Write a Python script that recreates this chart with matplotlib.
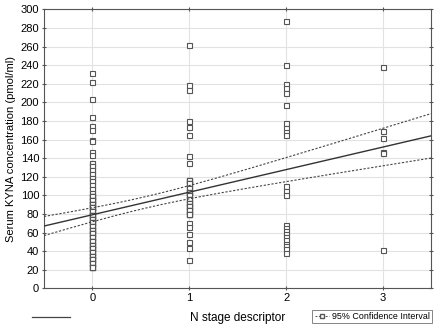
import numpy as np
import matplotlib
matplotlib.use("Agg")
import matplotlib.pyplot as plt
from matplotlib.lines import Line2D

plt.rcParams['font.family'] = ['Liberation Sans', 'DejaVu Sans']

# KYNA values (pmol/ml) per N stage.
# The stacks at N0 and N1 overlap heavily, so each value carries a count.
n0_vals = [232, 222, 204, 184, 174, 170, 160, 158, 147, 143,
           135, 131, 127, 123, 119, 115, 111, 107, 103,
           99, 95, 91, 87, 83, 79, 75, 71, 67,
           63, 59, 55, 51, 47, 43, 39, 35, 31, 27, 23]
n0_counts = [1, 1, 1, 1, 1, 1, 1, 1, 1, 1,
             2, 2, 2, 2, 2, 2, 2, 2, 2,
             5, 6, 6, 6, 6, 6, 6, 5, 5,
             5, 5, 5, 5, 5, 5, 5, 5, 5, 5, 5]
n1_vals = [262, 219, 213, 180, 173, 165, 142, 135,
           117, 113, 108, 104, 100, 96, 92, 88, 84, 80,
           70, 66, 58, 50, 43, 30]
n1_counts = [1, 1, 1, 1, 1, 1, 1, 1,
             4, 4, 4, 4, 4, 4, 4, 5, 5, 5,
             1, 1, 1, 1, 1, 1]
n2_vals = [287, 240, 220, 215, 210, 197, 178, 172, 168, 165, 110, 105, 100,
           68, 65, 62, 58, 55, 52, 48, 45, 42, 38]
n3_vals = [238, 169, 162, 147, 146, 41]

groups = [np.repeat(n0_vals, n0_counts), np.repeat(n1_vals, n1_counts),
          np.array(n2_vals), np.array(n3_vals)]
x = np.concatenate([np.full(len(g), i) for i, g in enumerate(groups)]).astype(float)
y = np.concatenate(groups).astype(float)

# linear fit with 95% confidence band
b, a = np.polyfit(x, y, 1)
n = len(x)
resid = y - (a + b * x)
s = np.sqrt(np.sum(resid**2) / (n - 2))
sxx = np.sum((x - x.mean())**2)
t = 1.971
xs = np.linspace(-0.5, 3.5, 200)
fit = a + b * xs
half = t * s * np.sqrt(1 / n + (xs - x.mean())**2 / sxx)

fig = plt.figure(figsize=(4.38, 3.28), dpi=100)
ax = fig.add_axes([0.1005, 0.121, 0.8842, 0.8506])

ax.plot(x, y, linestyle='none', marker='s', markersize=3.6,
        markerfacecolor='white', markeredgecolor='#555555', markeredgewidth=0.8, zorder=3)
ax.plot(xs, fit, color='#333333', lw=1.0, zorder=4)
ax.plot(xs, fit + half, color='#444444', lw=0.8, ls=(0, (2, 1.5)), zorder=4)
ax.plot(xs, fit - half, color='#444444', lw=0.8, ls=(0, (2, 1.5)), zorder=4)

ax.set_xlim(-0.5, 3.5)
ax.set_ylim(0, 300)
ax.set_xticks([0, 1, 2, 3])
ax.set_yticks(np.arange(0, 301, 20))
ax.grid(True, color='#e2e2e2', lw=0.8)
ax.set_axisbelow(True)
ax.tick_params(labelsize=8, length=3, color='#555555', top=True, right=True,
               direction='inout', pad=2)
for sp in ax.spines.values():
    sp.set_color('#555555')
    sp.set_linewidth(0.8)

ax.set_ylabel('Serum KYNA concentration (pmol/ml)', fontsize=8, labelpad=3)
fig.text(0.543, 1 - 318 / 328, 'N stage descriptor', fontsize=8.5,
         ha='center', va='center')

# legend-like decorations under the plot
fig.add_artist(Line2D([32 / 438, 70 / 438], [1 - 317 / 328] * 2,
                      color='#444444', lw=0.9))
proxy = Line2D([], [], color='#555555', lw=0.7, ls=(0, (2, 1.5)), marker='s',
               markersize=3, markerfacecolor='white', markeredgecolor='#555555')
leg = fig.legend([proxy], ['95% Confidence Interval'], loc='center',
                 bbox_to_anchor=(372 / 438, 1 - 316.5 / 328), fontsize=6.4,
                 fancybox=False, edgecolor='#666666', handlelength=1.6,
                 handletextpad=0.3, borderpad=0.25, borderaxespad=0)
leg.get_frame().set_linewidth(0.7)

fig.savefig('out.png', dpi=100)
